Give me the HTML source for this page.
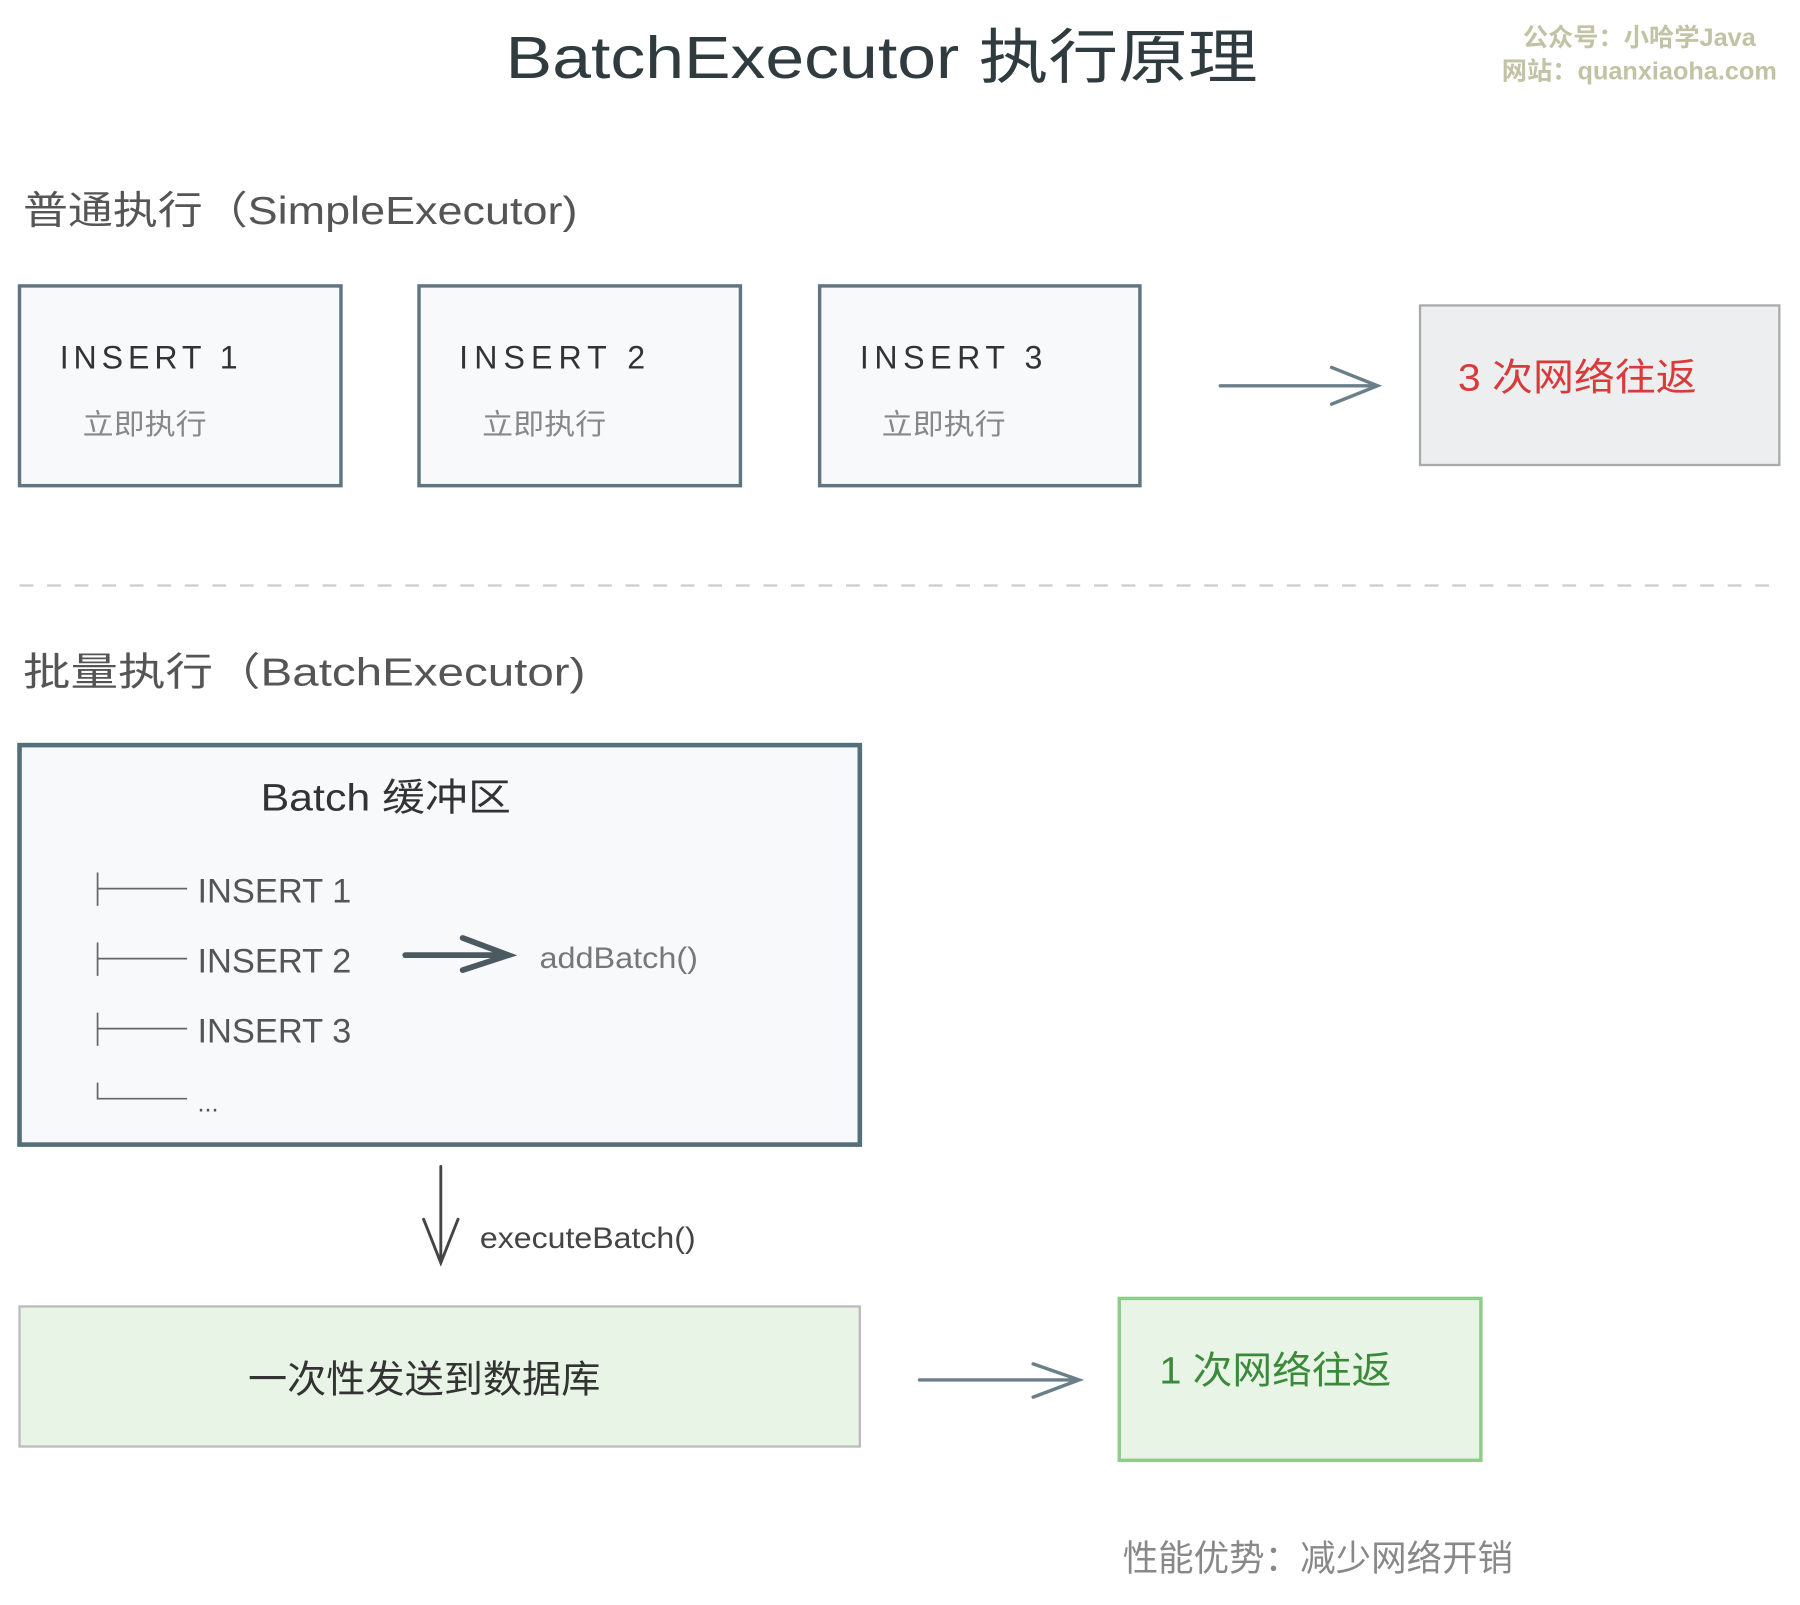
<!DOCTYPE html>
<html><head><meta charset="utf-8"><style>
html,body{margin:0;padding:0;background:#fff;}
svg{display:block;}
text{font-family:"Liberation Sans","Noto Sans CJK SC",sans-serif;}
</style></head><body>
<svg width="1800" height="1605" viewBox="0 0 1568 1398" xmlns="http://www.w3.org/2000/svg">
<rect width="1568" height="1398" fill="#fff"/>
<text x="768" y="68" font-size="52" text-anchor="middle" fill="#2f3b3f" textLength="655" lengthAdjust="spacingAndGlyphs">BatchExecutor 执行原理</text>
<text x="1428" y="40" font-size="22" font-weight="bold" text-anchor="middle" fill="#c2c2a4" font-family="Liberation Serif,'Noto Serif CJK SC',serif">公众号：小哈学Java</text>
<text x="1428" y="69" font-size="22" font-weight="bold" text-anchor="middle" fill="#c2c2a4" font-family="Liberation Serif,'Noto Serif CJK SC',serif">网站：quanxiaoha.com</text>

<text x="20" y="195" font-size="34" fill="#555" textLength="483" lengthAdjust="spacingAndGlyphs">普通执行（SimpleExecutor)</text>

<g fill="#f8f9fa" stroke="#5f7580" stroke-width="3">
<rect x="17" y="249" width="280" height="174"/>
<rect x="365" y="249" width="280" height="174"/>
<rect x="714" y="249" width="279" height="174"/>
</g>
<g font-size="28" fill="#333">
<text x="52" y="321" textLength="155" lengthAdjust="spacing">INSERT 1</text>
<text x="400" y="321" textLength="162" lengthAdjust="spacing">INSERT 2</text>
<text x="749" y="321" textLength="159" lengthAdjust="spacing">INSERT 3</text>
</g>
<g font-size="25" fill="#888">
<text x="72" y="378" textLength="108" lengthAdjust="spacingAndGlyphs">立即执行</text>
<text x="420" y="378" textLength="108" lengthAdjust="spacingAndGlyphs">立即执行</text>
<text x="768" y="378" textLength="108" lengthAdjust="spacingAndGlyphs">立即执行</text>
</g>
<g stroke="#6b7f88" stroke-width="3" fill="none" stroke-linecap="round">
<path d="M1063 336 L1200 336 M1160 320 L1200 336 L1160 352"/>
</g>
<rect x="1237" y="266" width="313" height="139" fill="#eceef0" stroke="#aaa" stroke-width="2"/>
<text x="1270" y="340" font-size="33" fill="#d93a3a" textLength="208" lengthAdjust="spacingAndGlyphs">3 次网络往返</text>

<line x1="17" y1="510" x2="1545" y2="510" stroke="#ccc" stroke-width="2" stroke-dasharray="12 12"/>

<text x="20" y="597" font-size="34" fill="#555" textLength="490" lengthAdjust="spacingAndGlyphs">批量执行（BatchExecutor)</text>

<rect x="17" y="649" width="732" height="348" fill="#f8f9fa" stroke="#546e7a" stroke-width="4"/>
<text x="227" y="706" font-size="33" fill="#333" textLength="218" lengthAdjust="spacingAndGlyphs">Batch 缓冲区</text>
<g stroke="#666" stroke-width="1.5" fill="none">
<path d="M85 760 V789 M85 774 H163"/>
<path d="M85 821 V850 M85 835 H163"/>
<path d="M85 882 V911 M85 896 H163"/>
<path d="M85 943 V957 H163"/>
</g>
<g font-size="30" fill="#555">
<text x="172" y="786" textLength="134" lengthAdjust="spacingAndGlyphs">INSERT 1</text>
<text x="172" y="847" textLength="134" lengthAdjust="spacingAndGlyphs">INSERT 2</text>
<text x="172" y="908" textLength="134" lengthAdjust="spacingAndGlyphs">INSERT 3</text>
<text x="172" y="968" font-size="22">...</text>
</g>
<path d="M353 832 L443 832 M403 817 L443 832 L403 845" stroke="#4a5a60" stroke-width="5" fill="none" stroke-linecap="round"/>
<text x="470" y="843" font-size="26" fill="#777" textLength="138" lengthAdjust="spacingAndGlyphs">addBatch()</text>

<path d="M384 1016 L384 1100 M369 1062 L384 1100 L399 1062" stroke="#444" stroke-width="2.5" fill="none" stroke-linecap="round"/>
<text x="418" y="1087" font-size="26" fill="#444" textLength="188" lengthAdjust="spacingAndGlyphs">executeBatch()</text>

<rect x="17" y="1138" width="732" height="122" fill="#e8f4e6" stroke="#bbb" stroke-width="2"/>
<text x="216" y="1213" font-size="33" fill="#333" textLength="307" lengthAdjust="spacingAndGlyphs">一次性发送到数据库</text>
<path d="M801 1202 L940 1202 M900 1188 L940 1202 L900 1217" stroke="#6b7f88" stroke-width="3" fill="none" stroke-linecap="round"/>
<rect x="975" y="1131" width="315" height="141" fill="#e8f4e6" stroke="#8fcc8a" stroke-width="3"/>
<text x="1010" y="1205" font-size="33" fill="#3a8a3a" textLength="202" lengthAdjust="spacingAndGlyphs">1 次网络往返</text>

<text x="978" y="1368" font-size="31" fill="#888" textLength="340" lengthAdjust="spacingAndGlyphs">性能优势：减少网络开销</text>
</svg>
</body></html>
